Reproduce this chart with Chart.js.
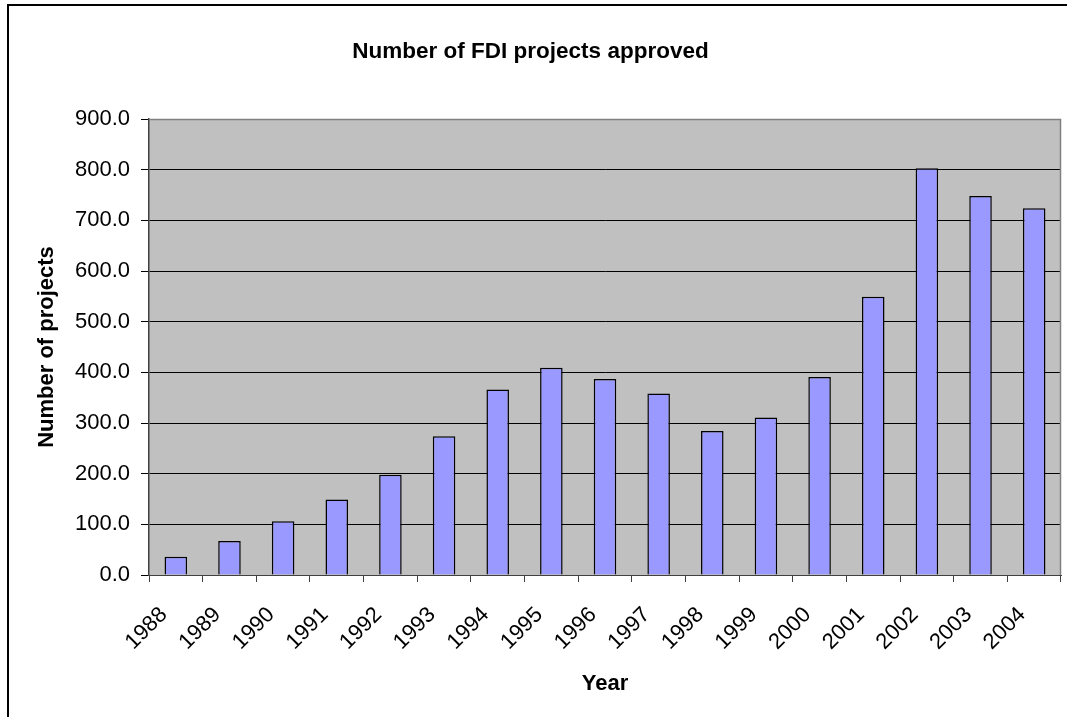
<!DOCTYPE html>
<html>
<head>
<meta charset="utf-8">
<script src="https://cdn.jsdelivr.net/npm/chart.js@4"></script>
<style>
  html, body { margin: 0; padding: 0; background: #ffffff; }
  #wrap { position: relative; width: 1067px; height: 717px; }
  canvas { display: block; }
</style>
</head>
<body>
<div id="wrap"><canvas id="c" width="1067" height="717"></canvas></div>
<script>
const years = ['1988','1989','1990','1991','1992','1993','1994','1995','1996','1997','1998','1999','2000','2001','2002','2003','2004'];
const projects = [36, 67, 106, 149, 198, 274, 366, 409, 387, 358, 284, 311, 391, 549, 803, 748, 724];
const yTicks = [0, 100, 200, 300, 400, 500, 600, 700, 800, 900];
const chartTitle = 'Number of FDI projects approved';
const xTitle = 'Year';
const yTitle = 'Number of projects';

const FONT = '"Liberation Sans", Arial, sans-serif';

const framePlugin = {
  id: 'frame',
  beforeDraw(chart) {
    const {ctx, chartArea: a} = chart;
    ctx.save();
    ctx.fillStyle = '#ffffff';
    ctx.fillRect(0, 0, chart.width, chart.height);
    ctx.fillStyle = '#C0C0C0';
    ctx.fillRect(a.left, a.top, a.right - a.left, a.bottom - a.top);
    ctx.restore();
  },
  afterDraw(chart) {
    const {ctx, chartArea: a} = chart;
    ctx.save();
    ctx.strokeStyle = '#808080';
    ctx.lineWidth = 1.5;
    ctx.beginPath();
    ctx.moveTo(a.left, a.top + 0.5);
    ctx.lineTo(a.right - 0.5, a.top + 0.5);
    ctx.lineTo(a.right - 0.5, a.bottom);
    ctx.stroke();
    ctx.strokeStyle = '#000000';
    ctx.lineWidth = 2;
    ctx.beginPath();
    ctx.moveTo(8, chart.height + 5);
    ctx.lineTo(8, 5);
    ctx.lineTo(chart.width + 5, 5);
    ctx.stroke();
    ctx.restore();
  }
};

new Chart(document.getElementById('c'), {
  type: 'bar',
  data: {
    labels: years,
    datasets: [{
      data: projects,
      backgroundColor: '#9999FF',
      borderColor: '#000000',
      borderWidth: 1.5,
      barPercentage: 0.42,
      categoryPercentage: 1.0
    }]
  },
  options: {
    responsive: false,
    animation: false,
    devicePixelRatio: 1,
    layout: { padding: { left: 0, right: 6, top: 0, bottom: 0 } },
    plugins: {
      legend: { display: false },
      tooltip: { enabled: false },
      title: {
        display: true,
        text: chartTitle,
        color: '#000000',
        font: { family: FONT, size: 22.5, weight: 'bold', lineHeight: 1.2 },
        padding: { top: 38, bottom: 54 }
      }
    },
    scales: {
      x: {
        offset: true,
        grid: {
          display: true,
          offset: true,
          drawOnChartArea: false,
          drawTicks: true,
          tickLength: 7,
          color: '#404040'
        },
        border: { display: true, color: '#404040', width: 1 },
        ticks: {
          color: '#000000',
          font: { family: FONT, size: 22 },
          minRotation: 45,
          maxRotation: 45,
          autoSkip: false,
          padding: 20,
          labelOffset: -12
        },
        title: {
          display: true,
          text: xTitle,
          color: '#000000',
          font: { family: FONT, size: 22, weight: 'bold', lineHeight: 1.2 },
          padding: { top: 0, bottom: 20 }
        },
        afterFit(scale) {
          scale.height = 142;
          scale.paddingLeft = 0;
          scale.paddingRight = 0;
        }
      },
      y: {
        min: 0,
        max: 900,
        afterBuildTicks(scale) { scale.ticks = yTicks.map(v => ({ value: v })); },
        grid: {
          color: '#000000',
          lineWidth: 1,
          drawTicks: true,
          tickLength: 8
        },
        border: { display: true, color: '#404040', width: 1.5 },
        ticks: {
          color: '#000000',
          font: { family: FONT, size: 22 },
          padding: 11,
          callback: (v) => Number(v).toFixed(1)
        },
        title: {
          display: true,
          text: yTitle,
          color: '#000000',
          font: { family: FONT, size: 22, weight: 'bold', lineHeight: 1.2 },
          padding: { top: 34, bottom: 0 }
        },
        afterFit(scale) { scale.width = 149; }
      }
    }
  },
  plugins: [framePlugin]
});
</script>
</body>
</html>
